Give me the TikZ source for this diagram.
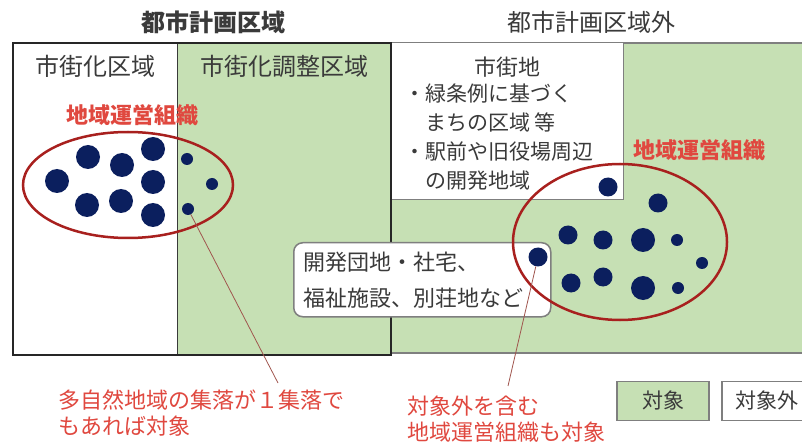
\documentclass[tikz,border=0pt]{standalone}
\usepackage{fontspec}
\setmainfont{Noto Sans CJK JP}
\definecolor{zone}{HTML}{C6E0B4}
\definecolor{navy}{HTML}{0B1F5E}
\definecolor{orgred}{HTML}{A8201E}
\definecolor{notered}{HTML}{E0483F}
\definecolor{ink}{HTML}{3A3A3A}
\definecolor{frame}{HTML}{7F7F7F}
\definecolor{lead}{HTML}{A0554E}
\newcommand{\fs}[2]{\fontsize{#1}{#2}\selectfont}

\begin{document}
\begin{tikzpicture}[x=1pt,y=-1pt,
  big/.style={circle,fill=navy,inner sep=0,minimum size=24pt},
  mid/.style={circle,fill=navy,inner sep=0,minimum size=19pt},
  tiny/.style={circle,fill=navy,inner sep=0,minimum size=12pt},
  head/.style={text=ink,font=\fs{24}{28}\bfseries},
  zonelabel/.style={text=ink,font=\fs{24}{28}},
  orglabel/.style={text=notered,font=\fs{22}{26}\bfseries},
  note/.style={text=notered,font=\fs{22}{26},align=left,anchor=north west,inner sep=0},
  legendbox/.style={draw=frame,line width=1.5pt,minimum width=92pt,minimum height=39pt,text=ink,font=\fs{21}{26}}]
\clip (0,0) rectangle (802,443);
\fill[white] (0,0) rectangle (802,443);
%
% outside the planning area
\fill[zone] (391,43) rectangle (802,353);
\draw[frame,line width=1.5pt] (391,43) -- (802,43);
\draw[frame,line width=1.5pt] (391,353) -- (802,353);
\draw[frame,line width=1pt,fill=white] (391,43) rectangle (623,200);
%
% planning area
\fill[zone] (177,43) rectangle (391,355);
\draw[ink,line width=0.8pt] (177,43) -- (177,355);
\draw[black!85,line width=2.5pt] (13,43) rectangle (391,355);
%
\node[head] (inside) at (213,22) {都市計画区域};
\node[head,font=\fs{24}{28}] (outside) at (591,22) {都市計画区域外};
\node[zonelabel] (urban) at (95,66) {市街化区域};
\node[zonelabel] (control) at (284,66) {市街化調整区域};
\node[zonelabel,font=\fs{22}{26}] (town) at (507,67) {市街地};
\node[text=ink,font=\fs{21}{29},align=left,anchor=north west,inner sep=0] (townlist) at (404,84)
  {・緑条例に基づく\\\phantom{・}まちの区域\ 等\\・駅前や旧役場周辺\\\phantom{・}の開発地域};
%
\node[orglabel] (orgL) at (132,115) {地域運営組織};
\node[orglabel] (orgR) at (699,150) {地域運営組織};
%
\node[draw=frame,line width=1.5pt,fill=white,rounded corners=9pt,text=ink,font=\fs{22}{36},
  align=left,text width=237pt,inner xsep=10pt,minimum height=74pt,anchor=north west] (estate) at (293,242)
  {開発団地・社宅、\\福祉施設、別荘地など};
%
% settlements inside
\node[big] (l1) at (57,181) {};
\node[big] (l2) at (88,157) {};
\node[big] (l3) at (122,165) {};
\node[big] (l4) at (153,149) {};
\node[big] (l5) at (153,182) {};
\node[big] (l6) at (87,205) {};
\node[big] (l7) at (121,201) {};
\node[big] (l8) at (153,215) {};
\node[tiny] (ls1) at (187,159) {};
\node[tiny] (ls2) at (212,184) {};
\node[tiny] (ls3) at (188,209) {};
\draw[orgred,line width=2.5pt] (128,185) ellipse [x radius=105,y radius=53];
%
% settlements outside
\node[mid] (r1) at (608,187) {};
\node[mid] (r2) at (538,257) {};
\node[mid] (r3) at (658,203) {};
\node[mid] (r4) at (568,235) {};
\node[mid] (r5) at (603,240) {};
\node[big] (r6) at (643,240) {};
\node[tiny] (r7) at (677,240) {};
\node[tiny] (r8) at (702,263) {};
\node[mid] (r9) at (571,283) {};
\node[mid] (r10) at (603,277) {};
\node[big] (r11) at (643,288) {};
\node[tiny] (r12) at (678,288) {};
\draw[orgred,line width=2.5pt] (620,242) ellipse [x radius=107,y radius=78];
%
% notes
\node[note] (note1) at (58,390) {多自然地域の集落が１集落で\\もあれば対象};
\node[note] (note2) at (407,396) {対象外を含む\\地域運営組織も対象};
\coordinate (tip1) at (278,383);
\coordinate (tip2) at (508,386);
\draw[lead,line width=0.8pt] (ls3) -- (tip1);
\draw[lead,line width=0.8pt] (r2) -- (tip2);
%
% legend
\node[legendbox,fill=zone] (target) at (663,401) {対象};
\node[legendbox,fill=white,minimum width=90pt] (nontarget) at (767,401) {対象外};
\end{tikzpicture}
\end{document}
